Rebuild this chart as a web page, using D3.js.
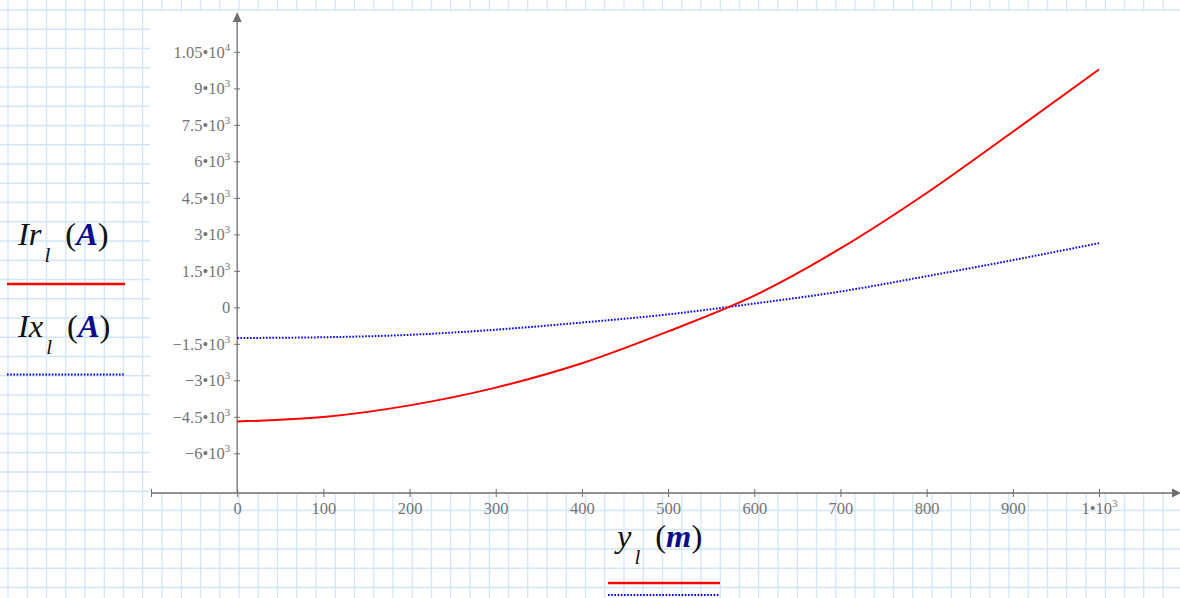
<!DOCTYPE html>
<html>
<head>
<meta charset="utf-8">
<script src="https://cdn.jsdelivr.net/npm/d3@7"></script>
<style>
  html, body { margin: 0; padding: 0; background: #fff; }
  svg { display: block; }
</style>
</head>
<body>
<svg id="chart" width="1180" height="598"></svg>
<script>
// Distance along the line (m) and the two current components (A)
const distance = [0, 100, 200, 300, 400, 500, 600, 700, 800, 900, 1000];
const irValues = [-4690, -4510, -4030, -3300, -2300, -990, 480, 2420, 4700, 7220, 9780];
const ixValues = [-1260, -1230, -1130, -920, -625, -290, 155, 650, 1280, 1940, 2640];

const xTickValues = [0, 100, 200, 300, 400, 500, 600, 700, 800, 900, 1000];
const yTickValues = [-6000, -4500, -3000, -1500, 0, 1500, 3000, 4500, 6000, 7500, 9000, 10500];

const W = 1180, H = 598;
const svg = d3.select("#chart");

// worksheet grid paper
const gridStep = 19.25;
const grid = svg.append("g").attr("stroke", "#d3e5fb").attr("stroke-width", 1.3);
grid.selectAll("line.v").data(d3.range(8, W, gridStep)).join("line")
  .attr("x1", d => d).attr("x2", d => d).attr("y1", 0).attr("y2", H);
grid.selectAll("line.h").data(d3.range(10, H, gridStep)).join("line")
  .attr("x1", 0).attr("x2", W).attr("y1", d => d).attr("y2", d => d);

// plot region
svg.append("rect").attr("x", 150).attr("y", 11).attr("width", W - 150).attr("height", 483).attr("fill", "#fff");

const x = d3.scaleLinear().domain([-100, 1000]).range([151, 1099]);
const y = d3.scaleLinear().domain([-6000, 10500]).range([453.3, 51.9]);

const axisColor = "#6e6e6e";
const labelColor = "#757575";
const tickFont = "'Liberation Serif', 'Times New Roman', serif";

// value labels in mantissa•10^n form
function fillLabel(sel, v) {
  sel.text(null);
  if (v === 0) { sel.append("tspan").text("0"); return; }
  const a = Math.abs(v);
  const sign = v < 0 ? "\u2212" : "";
  if (a < 1000) { sel.append("tspan").text(sign + a); return; }
  const e = Math.floor(Math.log10(a));
  const m = +(a / Math.pow(10, e)).toFixed(3);
  sel.append("tspan").text(sign + m + "\u2022" + "10");
  sel.append("tspan").attr("font-size", 11).attr("dy", -7).text(e);
}

const x0 = x(0);
const yBase = 493;

// y axis
const yAxis = svg.append("g").attr("transform", `translate(${x0},0)`)
  .call(d3.axisLeft(y).tickValues(yTickValues).tickSizeInner(3).tickSizeOuter(0).tickPadding(4));
yAxis.select(".domain").remove();
yAxis.selectAll(".tick line").attr("stroke", axisColor).attr("x2", 3).attr("x1", -3);
yAxis.selectAll(".tick text")
  .attr("fill", labelColor).attr("font-family", tickFont).attr("font-size", 16.5)
  .attr("x", -7).attr("dy", "0.33em")
  .each(function(d) { fillLabel(d3.select(this), d); });

// x axis
const xAxis = svg.append("g").attr("transform", `translate(0,${yBase})`)
  .call(d3.axisBottom(x).tickValues([-100].concat(xTickValues)).tickSizeInner(4).tickSizeOuter(0).tickPadding(8));
xAxis.select(".domain").remove();
xAxis.selectAll(".tick line").attr("stroke", axisColor).attr("y1", -4).attr("y2", 4);
xAxis.selectAll(".tick text")
  .attr("fill", labelColor).attr("font-family", tickFont).attr("font-size", 16.5)
  .attr("y", 21).attr("dy", 0)
  .each(function(d) { if (d < 0) d3.select(this).text(""); else fillLabel(d3.select(this), d); });

// axis lines with arrowheads
svg.append("line").attr("x1", x(-100)).attr("x2", 1174).attr("y1", yBase).attr("y2", yBase)
  .attr("stroke", axisColor).attr("stroke-width", 1.3);
svg.append("path").attr("d", `M1181,${yBase} L1172,${yBase - 4.5} L1172,${yBase + 4.5} Z`).attr("fill", axisColor);
svg.append("line").attr("x1", x0).attr("x2", x0).attr("y1", yBase).attr("y2", 20)
  .attr("stroke", axisColor).attr("stroke-width", 1.3);
svg.append("path").attr("d", `M${x0},12 L${x0 - 4.5},22 L${x0 + 4.5},22 Z`).attr("fill", axisColor);

// curves
const line = (vals) => d3.line()
  .x((d, i) => x(distance[i]))
  .y(d => y(d))
  .curve(d3.curveMonotoneX)(vals);

svg.append("path").attr("d", line(ixValues)).attr("fill", "none")
  .attr("stroke", "#0000ff").attr("stroke-width", 2).attr("stroke-dasharray", "1.6,1.6");
svg.append("path").attr("d", line(irValues)).attr("fill", "none")
  .attr("stroke", "#ff0000").attr("stroke-width", 2);

// legend text
const serif = "'Liberation Serif', 'Times New Roman', serif";
function legendLabel(px, py, main, unit) {
  const t = svg.append("text").attr("x", px).attr("y", py)
    .attr("font-family", serif).attr("font-size", 32.5).attr("fill", "#111");
  t.append("tspan").attr("font-style", "italic").text(main);
  t.append("tspan").attr("font-style", "italic").attr("font-size", 21).attr("dy", 17).attr("dx", 3).text("l");
  t.append("tspan").attr("dy", -17).attr("dx", 15).text("(");
  t.append("tspan").attr("font-style", "italic").attr("font-weight", "bold").attr("fill", "#0a0a8c").text(unit);
  t.append("tspan").text(")");
}

legendLabel(18, 245, "Ir", "A");
svg.append("line").attr("x1", 7).attr("x2", 125).attr("y1", 284).attr("y2", 284)
  .attr("stroke", "#ff0000").attr("stroke-width", 2.6);
legendLabel(18, 337, "Ix", "A");
svg.append("line").attr("x1", 7).attr("x2", 124).attr("y1", 374.5).attr("y2", 374.5)
  .attr("stroke", "#0000ff").attr("stroke-width", 1.8).attr("stroke-dasharray", "1.6,1.6");

legendLabel(617, 547, "y", "m");
svg.append("line").attr("x1", 608).attr("x2", 720).attr("y1", 583).attr("y2", 583)
  .attr("stroke", "#ff0000").attr("stroke-width", 2.4);
svg.append("line").attr("x1", 608).attr("x2", 720).attr("y1", 595).attr("y2", 595)
  .attr("stroke", "#0000ff").attr("stroke-width", 1.8).attr("stroke-dasharray", "1.6,1.6");
</script>
</body>
</html>
